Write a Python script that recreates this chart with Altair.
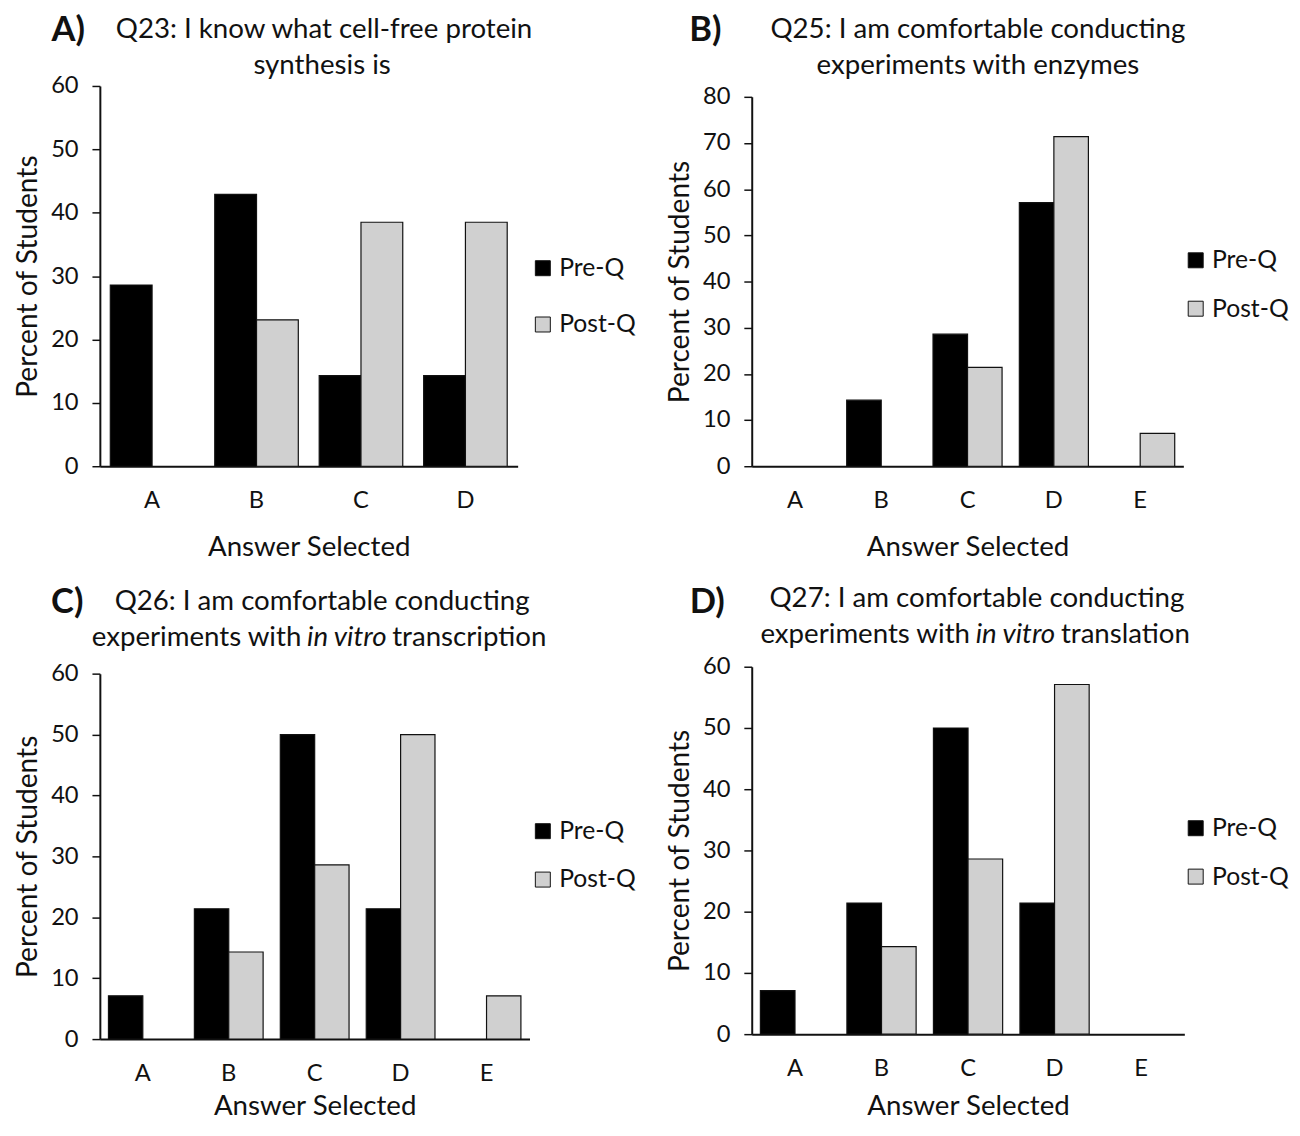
import altair as alt
import pandas as pd

FONT = "Lato"
series = ["Pre-Q", "Post-Q"]
series_colors = ["#000000", "#d0d0d0"]

a_cats = ["A", "B", "C", "D"]
a_pre = [28.6, 42.9, 14.3, 14.3]
a_post = [0, 23.1, 38.5, 38.5]

b_cats = ["A", "B", "C", "D", "E"]
b_pre = [0, 14.3, 28.6, 57.1, 0]
b_post = [0, 0, 21.4, 71.4, 7.1]

c_cats = ["A", "B", "C", "D", "E"]
c_pre = [7.1, 21.4, 50.0, 21.4, 0]
c_post = [0, 14.3, 28.6, 50.0, 7.1]

d_cats = ["A", "B", "C", "D", "E"]
d_pre = [7.1, 21.4, 50.0, 21.4, 0]
d_post = [0, 14.3, 28.6, 57.1, 0]

a_title = ["Q23: I know what cell-free protein", "synthesis is"]
b_title = ["Q25: I am comfortable conducting", "experiments with enzymes"]
c_title = ["Q26: I am comfortable conducting", "experiments with", "in vitro", "transcription"]
d_title = ["Q27: I am comfortable conducting", "experiments with", "in vitro", "translation"]


def long_df(cats, pre, post):
    rows = []
    for c, p, q in zip(cats, pre, post):
        rows.append({"cat": c, "series": series[0], "value": p})
        rows.append({"cat": c, "series": series[1], "value": q})
    return pd.DataFrame(rows)


def txt(s, x, y, size=28, weight="normal", style="normal", align="center"):
    return alt.Chart(pd.DataFrame({"t": [s]})).mark_text(
        font=FONT, fontSize=size, fontWeight=weight, fontStyle=style,
        align=align, baseline="middle", color="#111111"
    ).encode(text="t:N", x=alt.value(x), y=alt.value(y))


def panel(cats, pre, post, ymax, w, h, yrange, xoff, leg_x, leg_y, row_pad,
          x_lab_pad, x_title_pad, texts):
    df = long_df(cats, pre, post)
    bars = alt.Chart(df).transform_filter("datum.value > 0").mark_bar(
        stroke="#111111", strokeWidth=1.2
    ).encode(
        x=alt.X("cat:N", sort=cats,
                scale=alt.Scale(domain=cats, paddingInner=0.2, paddingOuter=0.1),
                axis=alt.Axis(title="Answer Selected", labelAngle=0, ticks=False,
                              domainColor="#111111", domainWidth=2,
                              labelFont=FONT, labelFontSize=24, labelColor="#111111",
                              labelPadding=x_lab_pad, titleFont=FONT, titleFontSize=28,
                              titleFontWeight="normal", titleColor="#111111",
                              titlePadding=x_title_pad, offset=xoff)),
        xOffset=alt.XOffset("series:N", sort=series,
                            scale=alt.Scale(domain=series, paddingInner=0, paddingOuter=0)),
        y=alt.Y("value:Q",
                scale=alt.Scale(domain=[0, ymax], nice=False, range=yrange),
                axis=alt.Axis(title="Percent of Students", values=list(range(0, ymax + 1, 10)),
                              grid=False, domainColor="#111111", domainWidth=2,
                              tickColor="#111111", tickSize=8, tickWidth=1.5,
                              labelFont=FONT, labelFontSize=24, labelColor="#111111",
                              labelPadding=14, titleFont=FONT, titleFontSize=28.5,
                              titleFontWeight="normal", titleColor="#111111",
                              titlePadding=8)),
        color=alt.Color("series:N", sort=series,
                        scale=alt.Scale(domain=series, range=series_colors),
                        legend=alt.Legend(orient="none", legendX=leg_x, legendY=leg_y,
                                          title=None, symbolType="square", symbolSize=230,
                                          symbolStrokeColor="#111111", symbolStrokeWidth=1,
                                          symbolOpacity=1, labelFont=FONT, labelFontSize=25,
                                          labelColor="#111111", labelOffset=4,
                                          rowPadding=row_pad, padding=0)),
    )
    return alt.layer(bars, *texts).properties(width=w, height=h)


pA = panel(a_cats, a_pre, a_post, 60, 423, 385, [385, 0], 0, 436, 172, 31, 23, 21, [
    txt("A)", -32, -57, size=35, weight="bold"),
    txt(a_title[0], 227, -57),
    txt(a_title[1], 225, -20),
])
pB = panel(b_cats, b_pre, b_post, 80, 437, 385, [385, 11], 0, 437, 164, 23, 23, 21, [
    txt("B)", -47, -57, size=35, weight="bold"),
    txt(b_title[0], 229, -57),
    txt(b_title[1], 229, -20),
])
pC = panel(c_cats, c_pre, c_post, 60, 435, 377, [377, 7], 0, 436, 154, 23, 23, 7, [
    txt("C)", -33, -65, size=35, weight="bold"),
    txt(c_title[0], 225, -65),
    txt(c_title[1], 204, -29, align="right"),
    txt(c_title[2], 250, -29, style="italic"),
    txt(c_title[3], 296, -29, align="left"),
])
pD = panel(d_cats, d_pre, d_post, 60, 438, 377, [372, 0], -5, 437, 151, 23, 23, 12, [
    txt("D)", -45, -65, size=35, weight="bold"),
    txt(d_title[0], 228, -68),
    txt(d_title[1], 221, -32, align="right"),
    txt(d_title[2], 267, -32, style="italic"),
    txt(d_title[3], 313, -32, align="left"),
])

chart = alt.concat(
    pA, pB, pC, pD, columns=2, spacing={"row": 203, "column": 225}, bounds="flush"
).resolve_scale(
    x="independent", y="independent", color="independent", xOffset="independent"
).resolve_legend(color="independent").properties(
    padding={"top": -2, "left": 6, "right": 3, "bottom": -5}
).configure(background="white").configure_view(strokeWidth=0, stroke="transparent")

chart.save("out.html", embed_options={"renderer": "svg", "actions": False})
